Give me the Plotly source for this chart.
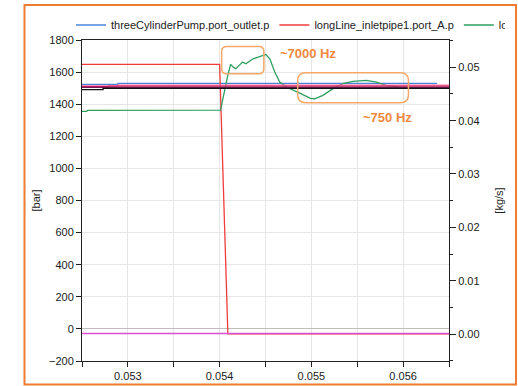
import plotly.graph_objects as go

# ---------------- data ----------------
t_pump = [0.0525, 0.05289, 0.05637]
p_pump = [1524, 1530, 1530]

t_inlet = [0.0525, 0.05400, 0.05409, 0.0565]
p_inlet = [1648, 1648, -31, -31]

t_line = [0.0525, 0.05255, 0.05256, 0.05401, 0.054093, 0.05412, 0.054148, 0.054177,
          0.054213, 0.05425, 0.054286, 0.054329, 0.054365, 0.05442, 0.054474,
          0.054503, 0.054547, 0.054601, 0.054655, 0.054728, 0.054873, 0.05499,
          0.055036, 0.055126, 0.055235, 0.055343, 0.055452, 0.055598, 0.055707,
          0.055815, 0.05596, 0.05607]
p_line = [1355, 1355, 1361, 1363, 1590, 1648, 1631, 1621,
          1642, 1662, 1652, 1669, 1683, 1693, 1704,
          1710, 1683, 1600, 1538, 1507, 1469, 1436,
          1434, 1455, 1497, 1528, 1542, 1548, 1538,
          1517, 1507, 1503]

t_black = [0.0525, 0.05273, 0.0565]
p_black = [1491, 1498, 1498]
t_pink = [0.0525, 0.05289, 0.0565]
p_pink = [1514, 1519, 1519]
t_crimson = [0.0525, 0.05279, 0.0565]
p_crimson = [1509, 1512, 1512]
t_purple = [0.0525, 0.0565]
p_purple = [1505, 1505]
t_flow = [0.0525, 0.0565]
m_flow = [0.0001, 0.0001]

names = ["threeCylinderPump.port_outlet.p", "longLine_inletpipe1.port_A.p",
         "longLine_outletpipe1.port_A.p"]

x_range = [0.0525, 0.0565]
y_range = [-200, 1800]
y2_range = [-0.00506, 0.05512]

# ---------------- layout geometry ----------------
W, H = 518, 386
ML, MT = 82, 40
MR, MB = W - 449, H - 361
PW, PH = W - ML - MR, H - MT - MB
sx = (x_range[1] - x_range[0]) / PW
sy = (y_range[1] - y_range[0]) / PH

def px(x):   # screenshot x -> paper
    return (x - ML) / PW

def py(y):   # screenshot y -> paper
    return (H - MB - y) / PH

def rrect(x0, x1, y0, y1, r):
    rx, ry = r * sx, r * sy
    return (f"M{x0+rx},{y1} L{x1-rx},{y1} Q{x1},{y1} {x1},{y1-ry} "
            f"L{x1},{y0+ry} Q{x1},{y0} {x1-rx},{y0} L{x0+rx},{y0} "
            f"Q{x0},{y0} {x0},{y0+ry} L{x0},{y1-ry} Q{x0},{y1} {x0+rx},{y1} Z")

fig = go.Figure()
fig.add_trace(go.Scatter(x=t_pump, y=p_pump, name=names[0], mode="lines",
                         line=dict(color="#4a84d8", width=1.3, shape="hv")))
fig.add_trace(go.Scatter(x=t_inlet, y=p_inlet, name=names[1], mode="lines",
                         line=dict(color="#f03c3c", width=1.3)))
fig.add_trace(go.Scatter(x=t_line, y=p_line, name=names[2], mode="lines",
                         legendwidth=1,
                         line=dict(color="#2e9e5e", width=1.3)))
fig.add_trace(go.Scatter(x=t_pink, y=p_pink, mode="lines", showlegend=False,
                         line=dict(color="#ff6fa0", width=1.3, shape="hv")))
fig.add_trace(go.Scatter(x=t_crimson, y=p_crimson, mode="lines", showlegend=False,
                         line=dict(color="#d81b60", width=1.3, shape="hv")))
fig.add_trace(go.Scatter(x=t_purple, y=p_purple, mode="lines", showlegend=False,
                         line=dict(color="#6d1f55", width=1.3)))
fig.add_trace(go.Scatter(x=t_black, y=p_black, mode="lines", showlegend=False,
                         line=dict(color="#111111", width=1.3, shape="hv")))
fig.add_trace(go.Scatter(x=t_flow, y=m_flow, mode="lines", showlegend=False,
                         yaxis="y2", line=dict(color="#d94fd0", width=1.3)))

orange = "#f0883e"
box = "#f6a868"
fig.update_layout(
    width=W, height=H,
    margin=dict(l=ML, r=MR, t=MT, b=MB, autoexpand=False),
    paper_bgcolor="white", plot_bgcolor="white",
    font=dict(family="Liberation Sans, Arial, sans-serif", size=11, color="#222"),
    showlegend=True,
    legend=dict(orientation="h", x=px(71), xanchor="left",
                y=py(25), yanchor="middle",
                font=dict(size=11, color="#222"), bgcolor="rgba(0,0,0,0)",
                itemclick=False),
    xaxis=dict(range=x_range, tick0=0.053, dtick=0.001, tickformat=".3f",
               showline=True, linecolor="#222", linewidth=1, mirror=True,
               ticks="outside", ticklen=5, tickcolor="#222",
               showgrid=True, gridcolor="#e6e6e6", zeroline=False,
               minor=dict(dtick=0.0005, tick0=0.0525, ticks="outside", ticklen=5,
                          tickcolor="#222", showgrid=True, gridcolor="#e6e6e6")),
    yaxis=dict(range=y_range, tick0=0, dtick=200,
               showline=True, linecolor="#222", linewidth=1,
               ticks="outside", ticklen=5, tickcolor="#222",
               showgrid=True, gridcolor="#e6e6e6",
               zeroline=True, zerolinecolor="#bdbdbd", zerolinewidth=1,
               title=dict(text="[bar]", standoff=6, font=dict(size=11))),
    yaxis2=dict(range=y2_range, overlaying="y", side="right", tick0=0, dtick=0.01,
                tickformat=".2f", showline=True, linecolor="#222", linewidth=1,
                ticks="outside", ticklen=6, tickcolor="#222",
                showgrid=False, zeroline=False,
                minor=dict(dtick=0.005, tick0=0, ticks="outside", ticklen=3,
                           tickcolor="#222"),
                title=dict(text="[kg/s]", standoff=16, font=dict(size=11))),
)

# orange frame around the whole chart
fig.add_shape(type="rect", xref="paper", yref="paper",
              x0=px(24.5), x1=px(516), y0=py(384.5), y1=py(5),
              line=dict(color="#ed7d31", width=2))

# highlight boxes
fig.add_shape(type="path", xref="x", yref="y",
              path=rrect(0.054022, 0.054482, 1590, 1760, 5),
              line=dict(color=box, width=1.5))
fig.add_shape(type="path", xref="x", yref="y",
              path=rrect(0.054851, 0.056058, 1409, 1596, 8),
              line=dict(color=box, width=1.5))

fig.add_annotation(x=0.054971, y=1716, text="<b>~7000 Hz</b>", showarrow=False,
                   font=dict(size=13, color=orange))
fig.add_annotation(x=0.05583, y=1315, text="<b>~750 Hz</b>", showarrow=False,
                   font=dict(size=13, color=orange))

# remove the default 8px page margin so the 518x386 figure fills the window exactly
fig.write_html("out.html",
               config={"displayModeBar": False},
               post_script="document.body.style.margin='0';"
                           "document.documentElement.style.overflow='hidden';")
